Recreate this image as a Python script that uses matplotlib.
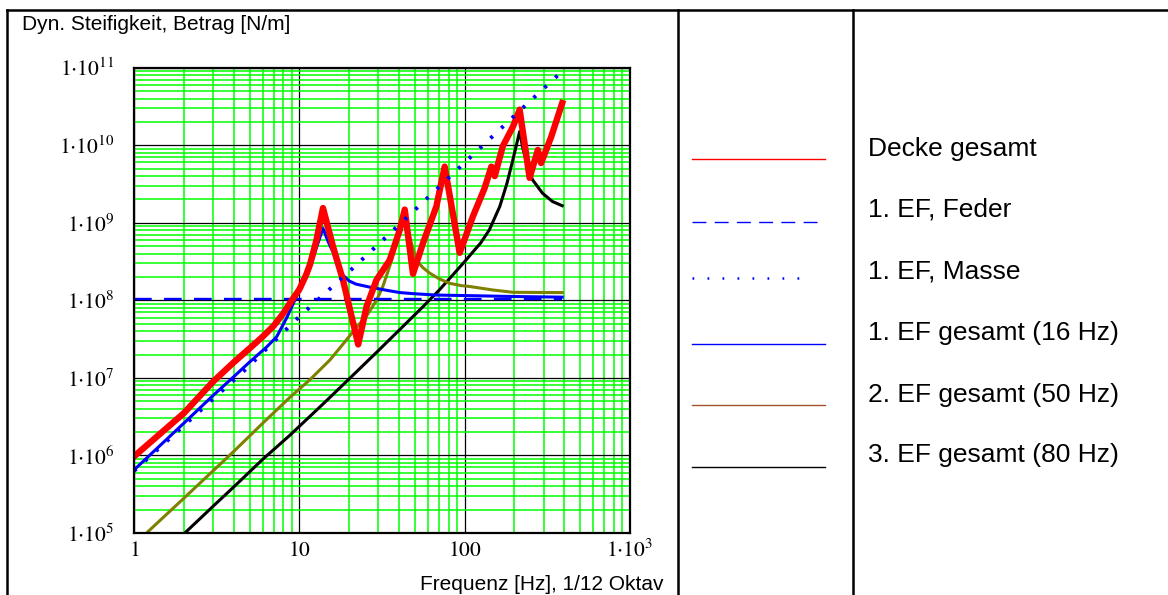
import numpy as np
import matplotlib
matplotlib.use("Agg")
import matplotlib.pyplot as plt
from matplotlib.ticker import LogLocator, NullFormatter, FixedLocator

plt.rcParams['mathtext.fontset'] = 'stix'
plt.rcParams['font.family'] = ['Liberation Sans', 'DejaVu Sans']

# ---------------- data (frequency [Hz], dynamic stiffness [N/m]) ----------------
f_decke = [1.0, 2.0, 3.0, 4.0, 5.0, 6.0, 7.0, 8.0, 9.0, 10.0, 11.0, 11.6, 12.7, 13.9,
           16.0, 18.4, 22.7, 25.5, 29.3, 35.2, 40.5, 43.4, 48.7, 56.0, 67.4, 75.7,
           93.3, 112, 132, 145, 152, 170, 196, 215, 247, 277, 290, 334, 389]
k_decke = [9.7e5, 3.5e6, 8.9e6, 1.58e7, 2.4e7, 3.4e7, 4.7e7, 6.8e7, 1.0e8, 1.38e8,
           2.14e8, 2.9e8, 6.0e8, 1.55e9, 4.9e8, 1.8e8, 2.7e7, 8.3e7, 1.84e8, 3.3e8,
           8.1e8, 1.48e9, 2.2e8, 5.5e8, 1.62e9, 5.3e9, 4.1e8, 1.2e9, 2.8e9, 5.3e9, 4.0e9,
           9.7e9, 1.74e10, 2.88e10, 3.8e9, 8.7e9, 5.9e9, 1.29e10, 3.5e10]

f_feder = [1.0, 389]
k_feder = [1.03e8, 1.03e8]

f_masse = [1.0, 4.68, 9.86, 21.2, 45.3, 96, 208, 389]
k_masse = [6.3e5, 1.26e7, 6.0e7, 2.63e8, 1.2e9, 5.5e9, 2.6e10, 9.0e10]

f_ef1 = [1.0, 2.0, 3.0, 4.0, 5.0, 6.34, 7.3, 8.37, 9.6, 10.5, 11.6, 12.7, 13.9, 15.0,
         16.0, 17.0, 18.4, 20.0, 22.0, 26.7, 33.6, 40.5, 48.7, 67.0, 107, 200, 389]
k_ef1 = [6.5e5, 2.6e6, 5.9e6, 1.03e7, 1.6e7, 2.5e7, 3.4e7, 5.9e7, 1.12e8, 1.66e8,
         2.6e8, 4.8e8, 8.5e8, 5.6e8, 4.2e8, 2.8e8, 2.1e8, 1.78e8, 1.62e8, 1.48e8,
         1.35e8, 1.26e8, 1.22e8, 1.17e8, 1.15e8, 1.12e8, 1.1e8]

f_ef2 = [1.1, 1.22, 2.0, 3.0, 4.0, 6.0, 8.76, 11.6, 15.3, 19.3, 22.0, 25.5, 29.3, 32.0,
         35.2, 38.0, 40.5, 43.4, 46.0, 51.0, 56.0, 61.5, 70.0, 81.0, 95.0, 107, 148,
         196, 389]
k_ef2 = [8.5e4, 1.05e5, 2.8e5, 6.3e5, 1.12e6, 2.6e6, 5.6e6, 9.5e6, 1.7e7, 3.1e7,
         4.4e7, 6.3e7, 1.0e8, 1.51e8, 2.75e8, 4.8e8, 8.9e8, 1.48e9, 7.1e8, 3.3e8,
         2.63e8, 2.24e8, 1.9e8, 1.66e8, 1.55e8, 1.51e8, 1.36e8, 1.27e8, 1.26e8]

f_ef3 = [1.9, 2.08, 3.0, 4.0, 6.0, 8.76, 13.9, 20.1, 30.0, 40.5, 56.0, 70.0, 85.0, 100,
         112, 125, 141, 163, 180, 195, 205, 215, 225, 235, 257, 296, 340, 389]
k_ef3 = [8.7e4, 1.05e5, 2.2e5, 3.9e5, 8.9e5, 1.82e6, 4.6e6, 9.8e6, 2.24e7, 4.2e7,
         8.3e7, 1.35e8, 2.14e8, 3.16e8, 4.2e8, 5.5e8, 8.1e8, 1.62e9, 3.2e9, 6.3e9,
         9.8e9, 1.5e10, 9.1e9, 6.5e9, 3.6e9, 2.4e9, 1.88e9, 1.66e9]

legend_labels = ["Decke gesamt", "1. EF, Feder", "1. EF, Masse",
                 "1. EF gesamt (16 Hz)", "2. EF gesamt (50 Hz)", "3. EF gesamt (80 Hz)"]

y_ticks = [1e5, 1e6, 1e7, 1e8, 1e9, 1e10, 1e11]
y_ticklabels = [r'$1{\cdot}10^{%d}$' % e for e in range(5, 12)]
x_ticks = [1, 10, 100, 1000]
x_ticklabels = [r'$1$', r'$10$', r'$100$', r'$1{\cdot}10^{3}$']

# ---------------- figure ----------------
W, H = 1168, 595
fig = plt.figure(figsize=(W / 100, H / 100), dpi=100)

ax = fig.add_axes([134 / W, 1 - 533 / H, (630 - 134) / W, (533 - 67.7) / H])
ax.set_xscale('log')
ax.set_yscale('log')
ax.set_xlim(1, 1000)
ax.set_ylim(1e5, 1e11)

ax.xaxis.set_major_locator(FixedLocator(x_ticks))
ax.yaxis.set_major_locator(FixedLocator(y_ticks))
ax.xaxis.set_minor_locator(LogLocator(base=10, subs=np.arange(2, 10), numticks=30))
ax.yaxis.set_minor_locator(LogLocator(base=10, subs=np.arange(2, 10), numticks=30))
ax.xaxis.set_minor_formatter(NullFormatter())
ax.yaxis.set_minor_formatter(NullFormatter())
ax.set_xticklabels(x_ticklabels, fontsize=15.5)
ax.set_yticklabels(y_ticklabels, fontsize=15.5)
ax.tick_params(which='both', length=0)
ax.tick_params(axis='y', pad=14)
ax.tick_params(axis='x', pad=5)

ax.set_axisbelow(True)
ax.grid(which='minor', color='#00ff00', lw=1.1)
ax.grid(which='major', color='black', lw=0.9)
for s in ax.spines.values():
    s.set_linewidth(1.6)
    s.set_zorder(5)

ax.plot(f_ef3, k_ef3, color='black', lw=2.2, zorder=2)
ax.plot(f_ef2, k_ef2, color='#808000', lw=2.2, zorder=2)
ax.plot(f_feder, k_feder, color='#0000ff', lw=1.7, ls=(0, (7.5, 5.2)), zorder=2.5)
ax.plot(f_ef1, k_ef1, color='#0000ff', lw=2.2, zorder=2.6)
ax.plot(f_decke, k_decke, color='#ff0000', lw=4.6, zorder=3)
ax.plot(f_masse, k_masse, color='#0000ff', lw=2.8, ls=(0, (0.8, 3.0)), zorder=3.5)

# ---------------- table frame, legend ----------------
ov = fig.add_axes([0, 0, 1, 1], zorder=-1)
ov.set_xlim(0, W)
ov.set_ylim(H, 0)
ov.axis('off')
frame_kw = dict(color='black', lw=1.8)
ov.plot([7, W], [9.5, 9.5], **frame_kw)
ov.plot([7, 7], [9.5, H], **frame_kw)
ov.plot([678, 678], [9.5, H], **frame_kw)
ov.plot([852.5, 852.5], [9.5, H], **frame_kw)

ov.text(22, 24, "Dyn. Steifigkeit, Betrag [N/m]", fontsize=15, va='center', ha='left')
ov.text(663, 584, "Frequenz [Hz], 1/12 Oktav", fontsize=15, va='center', ha='right')

sample_y = [159.3, 221.7, 278.3, 344.3, 405, 466.7]
sample_end = [825, 818, 800, 825, 825, 825]
sample_style = [dict(color='#ff0000', lw=1.0),
                dict(color='#0000ff', lw=1.0, ls=(0, (10, 6))),
                dict(color='#0000ff', lw=1.8, ls=(0, (0.7, 5.3))),
                dict(color='#0000ff', lw=1.0),
                dict(color='#a0522d', lw=1.0),
                dict(color='black', lw=1.0)]
text_y = [149.3, 210, 271.7, 333, 395, 455]
for yy, xe, st, lab, ty in zip(sample_y, sample_end, sample_style, legend_labels, text_y):
    ov.plot([692, xe], [yy, yy], **st)
    ov.text(868, ty, lab, fontsize=19, va='center', ha='left')

fig.savefig('out.png', dpi=100)
